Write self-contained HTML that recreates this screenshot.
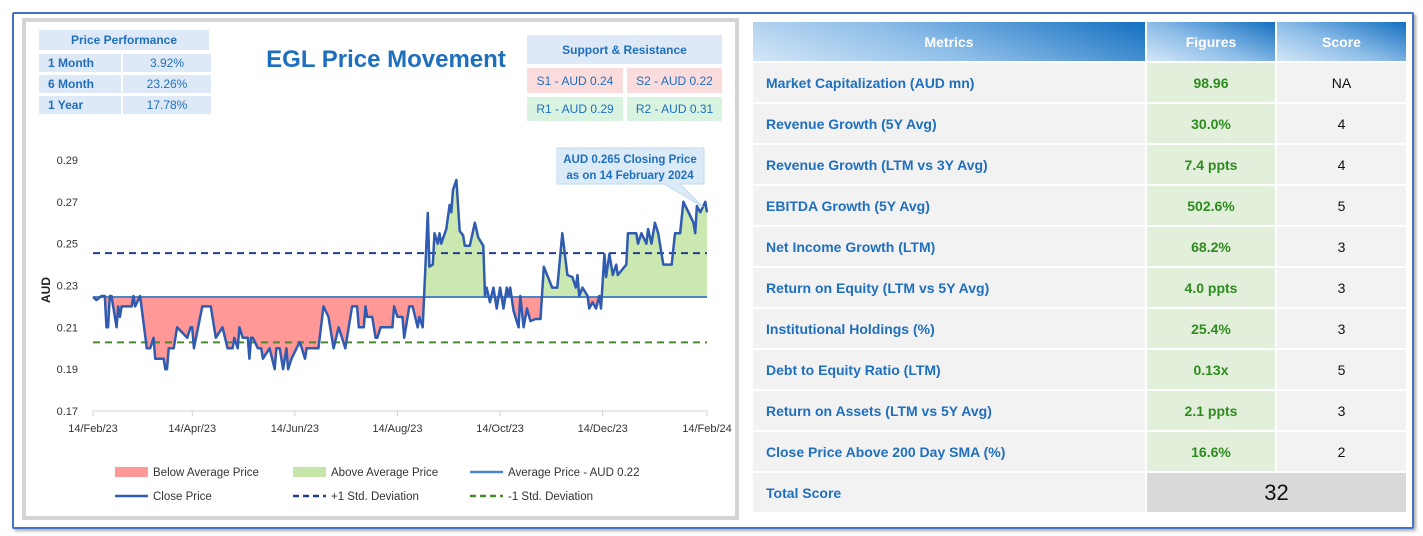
<!DOCTYPE html>
<html><head><meta charset="utf-8">
<style>
body{margin:0;width:1423px;height:536px;background:#fff;font-family:"Liberation Sans",sans-serif;position:relative;overflow:hidden}
.abs{position:absolute}
.cell{position:absolute;display:flex;align-items:center;box-sizing:border-box;font-weight:bold;font-size:12px;color:#1f6fbf}
.tbl{position:absolute;left:753px;top:22px;width:653px}
.row{position:absolute;left:0;height:39px;width:653px}
.row div{position:absolute;top:0;height:39px;display:flex;align-items:center;box-sizing:border-box;font-size:14px}
.m{left:0;width:392px;background:#f2f2f2;padding-left:13px;color:#1f6fbf;font-weight:bold}
.f{left:394px;width:128px;background:#e2efda;justify-content:center;color:#2e8b1f;font-weight:bold}
.s{left:524px;width:129px;background:#f2f2f2;justify-content:center;color:#111}
</style></head><body>
<div class="abs" style="left:12px;top:12px;width:1398px;height:513px;border:2px solid #4472c4;border-radius:2px;box-shadow:2px 2px 3px #aaa"></div>
<div class="abs" style="left:22px;top:18px;width:709px;height:494px;border:4px solid #d4d4d4;background:#fff"></div>

<div class="cell" style="left:39px;top:30px;width:170px;height:20px;background:#dde9f6;justify-content:center">Price Performance</div>
<div class="cell" style="left:39px;top:54px;width:82px;height:18px;background:#dde9f6;padding-left:9px">1 Month</div>
<div class="cell" style="left:123px;top:54px;width:88px;height:18px;background:#dde9f6;justify-content:center;font-weight:normal">3.92%</div>
<div class="cell" style="left:39px;top:75px;width:82px;height:18px;background:#dde9f6;padding-left:9px">6 Month</div>
<div class="cell" style="left:123px;top:75px;width:88px;height:18px;background:#dde9f6;justify-content:center;font-weight:normal">23.26%</div>
<div class="cell" style="left:39px;top:96px;width:82px;height:18px;background:#dde9f6;padding-left:9px">1 Year</div>
<div class="cell" style="left:123px;top:96px;width:88px;height:18px;background:#dde9f6;justify-content:center;font-weight:normal">17.78%</div>

<div class="abs" style="left:236px;top:46px;width:300px;text-align:center;font-size:24px;font-weight:bold;color:#1f6fbf">EGL Price Movement</div>

<div class="cell" style="left:527px;top:35px;width:195px;height:29px;background:#dde9f6;justify-content:center">Support &amp; Resistance</div>
<div class="cell" style="left:527px;top:68px;width:96px;height:25px;background:#fbdcdc;justify-content:center;font-weight:normal">S1 - AUD 0.24</div>
<div class="cell" style="left:627px;top:68px;width:95px;height:25px;background:#fbdcdc;justify-content:center;font-weight:normal">S2 - AUD 0.22</div>
<div class="cell" style="left:527px;top:97px;width:96px;height:24px;background:#d9f3e1;justify-content:center;font-weight:normal">R1 - AUD 0.29</div>
<div class="cell" style="left:627px;top:97px;width:95px;height:24px;background:#d9f3e1;justify-content:center;font-weight:normal">R2 - AUD 0.31</div>

<svg class="abs" style="left:0;top:0" width="740" height="536" id="chart"></svg>

<div class="tbl">
 <div class="abs" style="left:0;top:0;width:392px;height:39px;background:linear-gradient(200deg,#1470c0 0%,#8dbde8 55%,#d3e6f6 100%);color:#fff;font-weight:bold;font-size:14px;display:flex;align-items:center;justify-content:center">Metrics</div>
 <div class="abs" style="left:394px;top:0;width:128px;height:39px;background:linear-gradient(200deg,#1470c0 0%,#8dbde8 55%,#d3e6f6 100%);color:#fff;font-weight:bold;font-size:14px;display:flex;align-items:center;justify-content:center">Figures</div>
 <div class="abs" style="left:524px;top:0;width:129px;height:39px;background:linear-gradient(200deg,#1470c0 0%,#8dbde8 55%,#d3e6f6 100%);color:#fff;font-weight:bold;font-size:14px;display:flex;align-items:center;justify-content:center">Score</div>
 <div class="row" style="top:41px"><div class="m">Market Capitalization (AUD mn)</div><div class="f">98.96</div><div class="s">NA</div></div>
 <div class="row" style="top:82px"><div class="m">Revenue Growth (5Y Avg)</div><div class="f">30.0%</div><div class="s">4</div></div>
 <div class="row" style="top:123px"><div class="m">Revenue Growth (LTM vs 3Y Avg)</div><div class="f">7.4 ppts</div><div class="s">4</div></div>
 <div class="row" style="top:164px"><div class="m">EBITDA Growth (5Y Avg)</div><div class="f">502.6%</div><div class="s">5</div></div>
 <div class="row" style="top:205px"><div class="m">Net Income Growth (LTM)</div><div class="f">68.2%</div><div class="s">3</div></div>
 <div class="row" style="top:246px"><div class="m">Return on Equity (LTM vs 5Y Avg)</div><div class="f">4.0 ppts</div><div class="s">3</div></div>
 <div class="row" style="top:287px"><div class="m">Institutional Holdings (%)</div><div class="f">25.4%</div><div class="s">3</div></div>
 <div class="row" style="top:328px"><div class="m">Debt to Equity Ratio (LTM)</div><div class="f">0.13x</div><div class="s">5</div></div>
 <div class="row" style="top:369px"><div class="m">Return on Assets (LTM vs 5Y Avg)</div><div class="f">2.1 ppts</div><div class="s">3</div></div>
 <div class="row" style="top:410px"><div class="m">Close Price Above 200 Day SMA (%)</div><div class="f">16.6%</div><div class="s">2</div></div>
 <div class="row" style="top:451px"><div class="m">Total Score</div><div class="s" style="left:394px;width:259px;background:#d9d9d9;font-size:22px">32</div></div>
</div>

<script>
const days=[0,2,5,7,8,9,10,11,14,15,16,17,23,24,25,28,32,34,36,37,42,43,44,45,48,50,56,58,59,60,65,70,73,77,80,83,84,86,87,89,92,93,94,95,98,100,101,105,108,109,111,113,115,116,118,121,123,126,127,134,137,140,143,146,148,150,154,157,158,161,162,163,166,168,169,171,178,179,181,184,185,188,190,193,194,196,199,200,202,203,205,206,207,210,212,213,214,216,218,220,221,224,227,229,232,233,234,236,238,240,242,244,246,247,248,250,253,254,256,258,260,263,266,268,273,276,279,282,285,287,288,289,291,294,295,297,299,301,302,304,305,307,309,311,312,317,318,323,324,326,329,330,332,334,336,339,344,346,349,351,354,357,358,359,361,364,365];
const closePrice=[0.2245,0.223,0.225,0.225,0.21,0.21,0.225,0.225,0.21,0.22,0.215,0.22,0.22,0.225,0.22,0.225,0.20,0.20,0.205,0.195,0.195,0.19,0.19,0.20,0.20,0.21,0.205,0.21,0.21,0.20,0.22,0.22,0.205,0.21,0.20,0.20,0.205,0.20,0.21,0.205,0.205,0.195,0.205,0.205,0.20,0.20,0.195,0.20,0.19,0.20,0.20,0.19,0.20,0.19,0.195,0.20,0.203,0.195,0.20,0.20,0.22,0.215,0.20,0.21,0.205,0.20,0.22,0.22,0.21,0.21,0.22,0.215,0.215,0.205,0.205,0.21,0.21,0.22,0.215,0.215,0.205,0.22,0.22,0.21,0.215,0.21,0.2647,0.239,0.24,0.255,0.25,0.255,0.25,0.257,0.2685,0.265,0.2757,0.2805,0.256,0.254,0.249,0.249,0.26,0.253,0.249,0.225,0.229,0.222,0.229,0.219,0.229,0.219,0.229,0.225,0.229,0.218,0.21,0.225,0.21,0.219,0.213,0.214,0.214,0.239,0.229,0.229,0.255,0.235,0.234,0.229,0.235,0.225,0.229,0.225,0.219,0.222,0.219,0.225,0.219,0.245,0.234,0.245,0.235,0.24,0.235,0.24,0.255,0.255,0.25,0.255,0.25,0.257,0.25,0.26,0.255,0.24,0.24,0.255,0.255,0.27,0.265,0.26,0.255,0.268,0.265,0.27,0.265];
const averagePrice=0.2245, plusSD=0.2455, minusSD=0.2028;
const yTicks=[0.17,0.19,0.21,0.23,0.25,0.27,0.29];
const xTickDays=[0,59,120,181,242,303,365];
const xTickLabels=["14/Feb/23","14/Apr/23","14/Jun/23","14/Aug/23","14/Oct/23","14/Dec/23","14/Feb/24"];

const svg=document.getElementById('chart');const NS='http://www.w3.org/2000/svg';
const X0=93,X1=707,Y0=411,Y1=160;
const xs=d=>X0+(X1-X0)*d/365;
const ys=v=>Y0-(Y0-Y1)*(v-0.17)/(0.29-0.17);
function mk(t,a,p){const e=document.createElementNS(NS,t);for(const k in a)e.setAttribute(k,a[k]);(p||svg).appendChild(e);return e;}
const defs=mk('defs',{});
const ya=ys(averagePrice);
const c1=mk('clipPath',{id:'above'},defs);mk('rect',{x:0,y:0,width:740,height:ya},c1);
const c2=mk('clipPath',{id:'below'},defs);mk('rect',{x:0,y:ya,width:740,height:536},c2);
let pts=days.map((d,i)=>xs(d).toFixed(1)+','+ys(closePrice[i]).toFixed(1));
let area='M'+xs(days[0])+','+ya+' L'+pts.join(' L')+' L'+xs(days[days.length-1])+','+ya+'Z';
let e=mk('path',{d:area,fill:'#c6e5a9',opacity:'0.9','clip-path':'url(#above)'});


e=mk('path',{d:area,fill:'#ff9896','clip-path':'url(#below)'});


yTicks.forEach(v=>{const t=mk('text',{x:78,y:ys(v)+4,'font-size':11,fill:'#333','text-anchor':'end'});t.textContent=v.toFixed(2);

});
mk('line',{x1:X0,x2:X1,y1:Y0,y2:Y0,stroke:'#d0d0d0'});
xTickDays.forEach((d,i)=>{mk('line',{x1:xs(d),x2:xs(d),y1:Y0,y2:Y0+5,stroke:'#d0d0d0'});
const t=mk('text',{x:xs(d),y:432,'font-size':11,fill:'#333','text-anchor':'middle'});t.textContent=xTickLabels[i];

});
const yt=mk('text',{x:50,y:290,'font-size':12,'font-weight':'bold',fill:'#222','text-anchor':'middle',transform:'rotate(-90 50 290)'});yt.textContent='AUD';


e=mk('line',{x1:X0,x2:X1,y1:ys(plusSD),y2:ys(plusSD),stroke:'#203f8f','stroke-width':2,'stroke-dasharray':'7,5'});


e=mk('line',{x1:X0,x2:X1,y1:ys(minusSD),y2:ys(minusSD),stroke:'#4b8a2a','stroke-width':2,'stroke-dasharray':'7,5'});


e=mk('line',{x1:X0,x2:X1,y1:ya,y2:ya,stroke:'#4a86c5','stroke-width':2});


e=mk('polyline',{points:pts.join(' '),fill:'none',stroke:'#2f5bb0','stroke-width':2.5,'stroke-linejoin':'round'});


const g=mk('g',{});


mk('path',{d:'M557,148 L704,148 L704,184 L680,184 L703,207 L664,184 L557,184 Z',fill:'#dbeaf7',stroke:'#c5d9ee'},g);
let t=mk('text',{x:630,y:163,'font-size':11.5,'font-weight':'bold',fill:'#1f6fbf','text-anchor':'middle'},g);t.textContent='AUD 0.265 Closing Price';
t=mk('text',{x:630,y:179,'font-size':11.5,'font-weight':'bold',fill:'#1f6fbf','text-anchor':'middle'},g);t.textContent='as on 14 February 2024';
const leg=[[115,472,'rect','#ff9896','Below Average Price'],[293,472,'rect','#c6e5a9','Above Average Price'],[470,472,'solid','#4a86c5','Average Price - AUD 0.22'],[115,496,'solid','#2f5bb0','Close Price'],[293,496,'dash','#203f8f','+1 Std. Deviation'],[470,496,'dash','#4b8a2a','-1 Std. Deviation']];
leg.forEach(l=>{const lg=mk('g',{});


if(l[2]=='rect')mk('rect',{x:l[0],y:l[1]-5,width:33,height:10,fill:l[3]},lg);
else mk('line',{x1:l[0],x2:l[0]+33,y1:l[1],y2:l[1],stroke:l[3],'stroke-width':2.5,'stroke-dasharray':l[2]=='dash'?'6,4':'none'},lg);
const tt=mk('text',{x:l[0]+38,y:l[1]+4,'font-size':11.5,fill:'#333'},lg);tt.textContent=l[4];});
</script>
</body></html>
